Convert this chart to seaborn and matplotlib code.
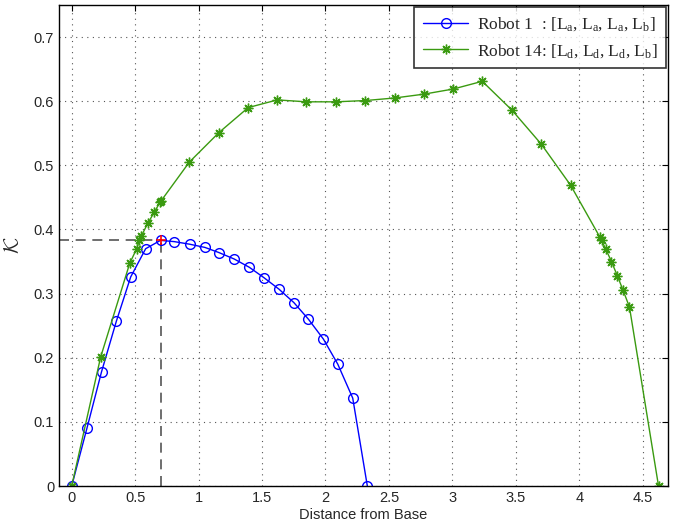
import numpy as np
import pandas as pd
import seaborn as sns
import matplotlib
matplotlib.use("Agg")
import matplotlib.pyplot as plt
from matplotlib.ticker import FuncFormatter

# Robot 1 : [La, La, La, Lb]
r1_dist = [0, 0.12, 0.235, 0.352, 0.465, 0.583, 0.70, 0.81, 0.93, 1.05, 1.16,
           1.28, 1.40, 1.514, 1.633, 1.751, 1.866, 1.984, 2.097, 2.215, 2.33]
r1_k = [0, 0.090, 0.178, 0.257, 0.326, 0.370, 0.383, 0.381, 0.377, 0.372, 0.364,
        0.354, 0.341, 0.325, 0.307, 0.286, 0.260, 0.229, 0.190, 0.137, 0]

# Robot 14 : [Ld, Ld, Ld, Lb]
r14_dist = [0, 0.228, 0.457, 0.512, 0.533, 0.549, 0.601, 0.651, 0.698, 0.706,
            0.927, 1.160, 1.391, 1.620, 1.850, 2.081, 2.315, 2.546, 2.777, 3.008,
            3.236, 3.470, 3.701, 3.932, 4.163, 4.176, 4.21, 4.254, 4.30, 4.346,
            4.396, 4.625]
r14_k = [0, 0.201, 0.347, 0.370, 0.383, 0.390, 0.410, 0.427, 0.443, 0.445,
         0.505, 0.551, 0.590, 0.602, 0.599, 0.599, 0.601, 0.605, 0.611, 0.619,
         0.631, 0.586, 0.533, 0.469, 0.388, 0.383, 0.369, 0.350, 0.328, 0.305,
         0.279, 0]

# maximum of robot 1
peak_x, peak_y = 0.70, 0.383

sns.set_style("white")
plt.rcParams['font.family'] = ['Liberation Sans', 'DejaVu Sans']
plt.rcParams['mathtext.fontset'] = 'custom'
plt.rcParams['mathtext.rm'] = 'Liberation Serif'
plt.rcParams['mathtext.it'] = 'Liberation Serif:italic'

df1 = pd.DataFrame({'d': r1_dist, 'k': r1_k})
df14 = pd.DataFrame({'d': r14_dist, 'k': r14_k})

fig = plt.figure(figsize=(6.87, 5.24), dpi=100)
ax = fig.add_axes([0.0859, 0.0725, 0.8865, 0.918])

blue = '#0000ff'
green = '#3a9a10'

sns.lineplot(data=df1, x='d', y='k', ax=ax, color=blue, lw=1, marker='o',
             markersize=7, markerfacecolor='none', markeredgecolor=blue,
             markeredgewidth=1, estimator=None, sort=False,
             label=r'Robot 1  : [L$_\mathrm{a}$, L$_\mathrm{a}$, L$_\mathrm{a}$, L$_\mathrm{b}$]')
sns.lineplot(data=df14, x='d', y='k', ax=ax, color=green, lw=1, marker=(8, 2, 0),
             markersize=7, markeredgecolor=green, markerfacecolor=green,
             markeredgewidth=1, estimator=None, sort=False,
             label=r'Robot 14: [L$_\mathrm{d}$, L$_\mathrm{d}$, L$_\mathrm{d}$, L$_\mathrm{b}$]')

ax.plot([-0.1, peak_x], [peak_y, peak_y], ls=(0, (6, 4)), color='#555555', lw=1.2, zorder=1)
ax.plot([peak_x, peak_x], [0, peak_y], ls=(0, (6, 4)), color='#555555', lw=1.2, zorder=1)
ax.plot(peak_x, peak_y, marker='+', color='red', markersize=7, mew=1.2, zorder=5)

ax.set_xlim(-0.1, 4.7)
ax.set_ylim(0, 0.75)
ax.set_xticks(np.arange(0, 4.51, 0.5))
ax.set_yticks(np.arange(0, 0.71, 0.1))
ax.xaxis.set_major_formatter(FuncFormatter(lambda v, p: '%g' % round(v, 2)))
ax.yaxis.set_major_formatter(FuncFormatter(lambda v, p: '%g' % round(v, 2)))
ax.tick_params(direction='in', top=True, right=True, length=4, labelsize=10.5,
               color='black', width=0.8)
ax.grid(True, ls=(0, (1, 4)), color='#555555', lw=0.8)

for s in ax.spines.values():
    s.set_visible(True)
    s.set_color('black')
    s.set_linewidth(1)

ax.set_xlabel('Distance from Base', fontsize=10.5, labelpad=2)
ax.set_ylabel(r'$\mathcal{K}$', fontsize=15, labelpad=8, math_fontfamily='cm')

leg = ax.legend(loc='upper right', frameon=True, fancybox=False,
                borderaxespad=0.1, handlelength=2.6, borderpad=0.5,
                handletextpad=0.5, labelspacing=0.5,
                prop={'family': 'Liberation Serif', 'size': 12.5})
leg.get_frame().set_edgecolor('black')
leg.get_frame().set_linewidth(1.2)

fig.savefig('out.png', dpi=100)
